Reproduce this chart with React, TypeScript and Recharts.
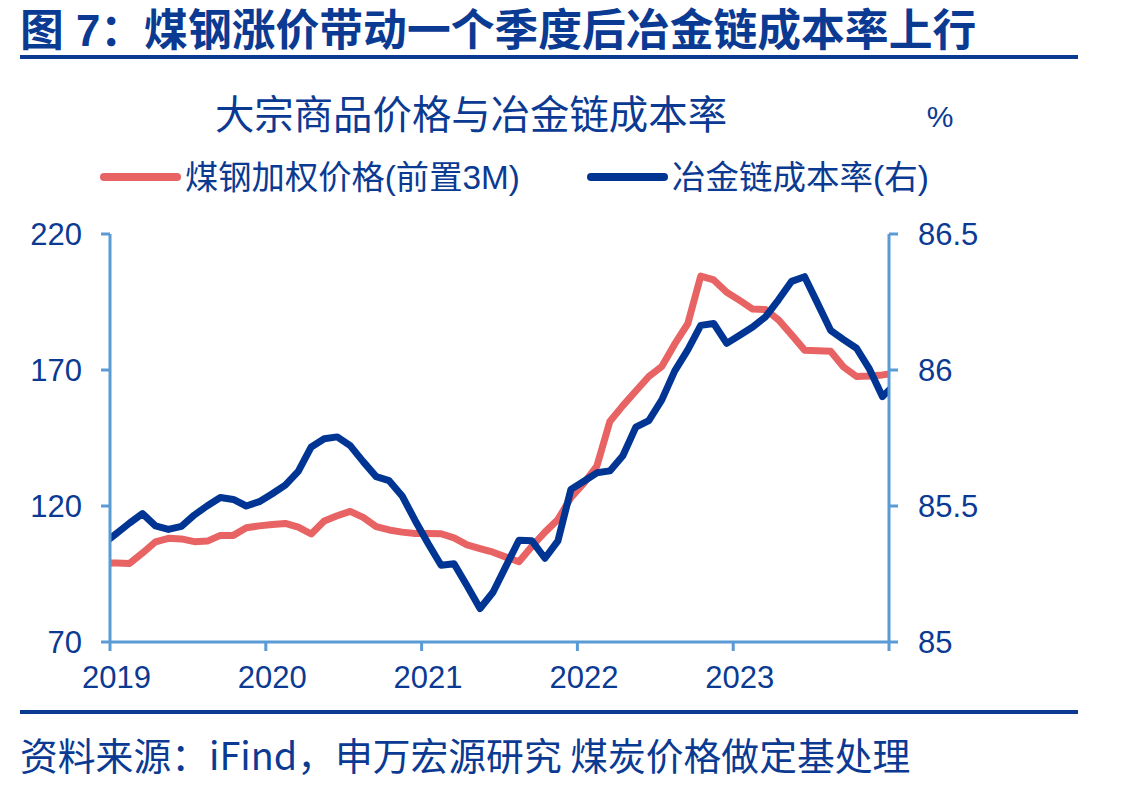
import React from 'react';
import { LineChart, Line, XAxis, YAxis } from 'recharts';

// Monthly observations, 2018-12 .. 2024-01 (plotted at month centres)
const months = [
  '2018-12',
  '2019-01','2019-02','2019-03','2019-04','2019-05','2019-06','2019-07','2019-08','2019-09','2019-10','2019-11','2019-12',
  '2020-01','2020-02','2020-03','2020-04','2020-05','2020-06','2020-07','2020-08','2020-09','2020-10','2020-11','2020-12',
  '2021-01','2021-02','2021-03','2021-04','2021-05','2021-06','2021-07','2021-08','2021-09','2021-10','2021-11','2021-12',
  '2022-01','2022-02','2022-03','2022-04','2022-05','2022-06','2022-07','2022-08','2022-09','2022-10','2022-11','2022-12',
  '2023-01','2023-02','2023-03','2023-04','2023-05','2023-06','2023-07','2023-08','2023-09','2023-10','2023-11','2023-12',
  '2024-01',
];

// 煤钢加权价格(前置3M), left axis
const steelPrice = [
  99.1,
  99.0, 98.9, 102.7, 106.8, 108.1, 107.9, 106.9, 107.1, 109.2, 109.2, 112.0, 112.7,
  113.2, 113.6, 112.2, 109.7, 114.5, 116.4, 118.0, 115.8, 112.4, 111.2, 110.4, 109.9,
  109.9, 109.8, 108.3, 105.7, 104.3, 103.0, 101.2, 99.5, 105.2, 110.4, 115.0, 123.1,
  128.4, 134.7, 151.1, 156.9, 162.3, 167.6, 171.3, 179.6, 187.0, 204.5, 203.1, 198.6,
  195.6, 192.4, 192.2, 188.4, 182.9, 177.3, 177.1, 176.9, 171.1, 167.6, 167.8, 168.2,
  168.9,
];

// 冶金链成本率(右), right axis, %
const costRate = [
  85.362,
  85.399, 85.437, 85.472, 85.427, 85.414, 85.425, 85.467, 85.501, 85.531, 85.524, 85.500, 85.516,
  85.545, 85.577, 85.627, 85.717, 85.747, 85.754, 85.722, 85.663, 85.608, 85.593, 85.537, 85.447,
  85.362, 85.282, 85.288, 85.207, 85.123, 85.183, 85.279, 85.374, 85.372, 85.308, 85.372, 85.561,
  85.591, 85.622, 85.629, 85.685, 85.790, 85.814, 85.890, 85.997, 86.074, 86.164, 86.171, 86.098,
  86.128, 86.158, 86.196, 86.259, 86.326, 86.343, 86.245, 86.146, 86.112, 86.080, 86.003, 85.902,
  85.950,
];

const yearLabels = ['2019', '2020', '2021', '2022', '2023', ''];
const yearTicks = [0, 12, 24, 36, 48, 60];
const leftTicks = [70, 120, 170, 220];
const rightTicks = [85, 85.5, 86, 86.5];

const seriesNames = ['煤钢加权价格(前置3M)', '冶金链成本率(右)'];
const figureTitle = '图 7：煤钢涨价带动一个季度后冶金链成本率上行';
const chartTitle = '大宗商品价格与冶金链成本率';
const unitLabel = '%';
const sourceNote = '资料来源：iFind，申万宏源研究 煤炭价格做定基处理';

const data = months.map((m, i) => ({
  month: m,
  pos: i - 0.5,
  steel: steelPrice[i],
  cost: costRate[i],
}));

const TEXT = '#0b3a93';
const AXIS = '#5b9bd5';
const RED = '#e86363';
const BLUE = '#003594';
const FONT = '"Liberation Sans", Arial, "Noto Sans CJK SC", sans-serif';
const CJK = '"Noto Sans CJK SC", "Liberation Sans", sans-serif';

const XTick = (props: any) => {
  const { x, y, payload } = props;
  const label = yearLabels[Math.round(payload.value / 12)] ?? '';
  return (
    <text x={x + 6.5} y={y} dy="0.71em" textAnchor="middle" fill={TEXT} fontSize={31} fontFamily={FONT}>
      {label}
    </text>
  );
};

export default function App() {
  return (
    <div style={{ position: 'absolute', left: 0, top: 0, width: 1125, height: 787, background: '#fff' }}>
      <LineChart
        width={1125}
        height={787}
        data={data}
        margin={{ top: 234, right: 0, bottom: 105, left: 0 }}
      >
        <XAxis
          dataKey="pos"
          type="number"
          domain={[0, 60]}
          ticks={yearTicks}
          allowDataOverflow
          height={40}
          axisLine={{ stroke: AXIS, strokeWidth: 3 }}
          tickLine={{ stroke: AXIS, strokeWidth: 3 }}
          tickSize={9}
          tickMargin={15}
          tick={<XTick />}
          interval={0}
        />
        <YAxis
          yAxisId="left"
          orientation="left"
          domain={[70, 220]}
          ticks={leftTicks}
          width={110}
          allowDataOverflow
          axisLine={{ stroke: AXIS, strokeWidth: 3 }}
          tickLine={{ stroke: AXIS, strokeWidth: 3 }}
          tickSize={9}
          tickMargin={19}
          tick={{ fill: TEXT, fontSize: 31, fontFamily: FONT }}
          interval={0}
        />
        <YAxis
          yAxisId="right"
          orientation="right"
          domain={[85, 86.5]}
          ticks={rightTicks}
          width={236}
          allowDataOverflow
          axisLine={{ stroke: AXIS, strokeWidth: 3 }}
          tickLine={{ stroke: AXIS, strokeWidth: 3 }}
          tickSize={9}
          tickMargin={20}
          tick={{ fill: TEXT, fontSize: 31, fontFamily: FONT, textAnchor: 'start' }}
          interval={0}
        />
        <Line
          yAxisId="left"
          type="linear"
          dataKey="steel"
          name={seriesNames[0]}
          stroke={RED}
          strokeWidth={7}
          strokeLinejoin="round"
          dot={false}
          activeDot={false}
          isAnimationActive={false}
        />
        <Line
          yAxisId="right"
          type="linear"
          dataKey="cost"
          name={seriesNames[1]}
          stroke={BLUE}
          strokeWidth={7}
          strokeLinejoin="round"
          dot={false}
          activeDot={false}
          isAnimationActive={false}
        />
      </LineChart>
      <svg
        width={1125}
        height={787}
        style={{ position: 'absolute', left: 0, top: 0, pointerEvents: 'none' }}
      >
        <text x={20} y={30} dominantBaseline="central" fill={TEXT} fontSize={43.8} fontWeight="bold" fontFamily={FONT}>
          {figureTitle}
        </text>
        <rect x={20} y={55} width={1058} height={4} fill={TEXT} />
        <text x={471} y={111} dominantBaseline="central" textAnchor="middle" fill={TEXT} fontSize={39.4} fontFamily={CJK}>
          {chartTitle}
        </text>
        <text x={940} y={116} dominantBaseline="central" textAnchor="middle" fill={TEXT} fontSize={30} fontFamily={FONT}>
          {unitLabel}
        </text>
        <line x1={104} y1={177} x2={177} y2={177} stroke={RED} strokeWidth={8} strokeLinecap="round" />
        <text x={185} y={177} dominantBaseline="central" fill={TEXT} fontSize={33.3} fontFamily={FONT}>
          {seriesNames[0]}
        </text>
        <line x1={591} y1={177} x2={664} y2={177} stroke={BLUE} strokeWidth={8} strokeLinecap="round" />
        <text x={672} y={177} dominantBaseline="central" fill={TEXT} fontSize={33.5} fontFamily={FONT}>
          {seriesNames[1]}
        </text>
        <rect x={20} y={710} width={1058} height={4} fill={TEXT} />
        <text x={20} y={753} dominantBaseline="central" fill={TEXT} fontSize={37.8} fontFamily={CJK}>
          {sourceNote}
        </text>
      </svg>
    </div>
  );
}
